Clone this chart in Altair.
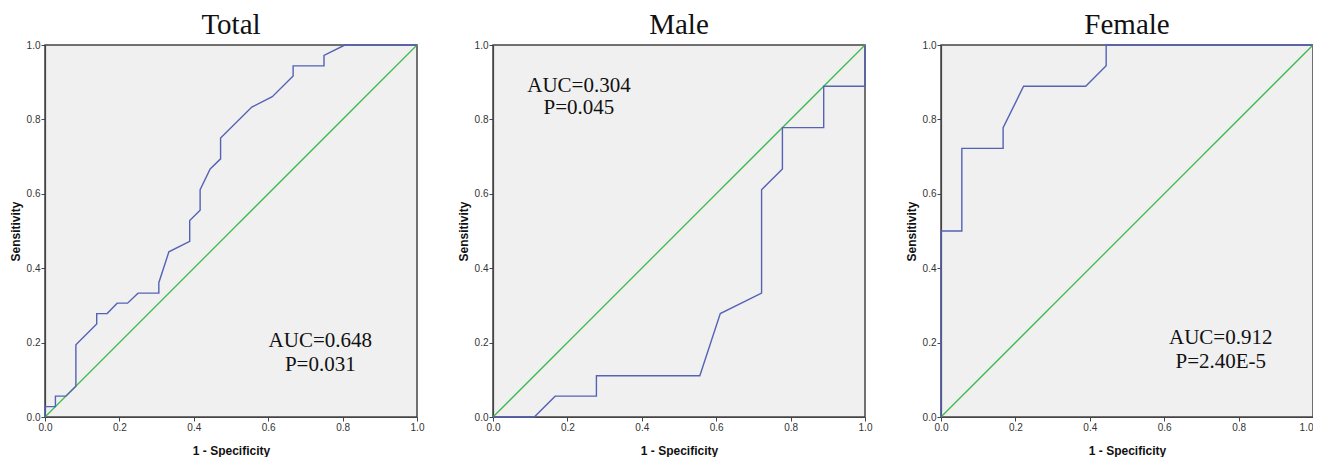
import altair as alt
import pandas as pd

panels = ["Total", "Male", "Female"]

total_x = [0, 0, 0.028, 0.028, 0.056, 0.083, 0.083, 0.139, 0.139, 0.167, 0.194, 0.222, 0.25,
           0.306, 0.306, 0.333, 0.389, 0.389, 0.417, 0.417, 0.444, 0.472, 0.472, 0.556, 0.611,
           0.667, 0.667, 0.75, 0.75, 0.806, 1.0]
total_y = [0, 0.028, 0.028, 0.056, 0.056, 0.083, 0.194, 0.25, 0.278, 0.278, 0.306, 0.306, 0.333,
           0.333, 0.361, 0.444, 0.472, 0.528, 0.556, 0.611, 0.667, 0.694, 0.75, 0.833, 0.861,
           0.917, 0.944, 0.944, 0.972, 1.0, 1.0]

male_x = [0, 0.111, 0.167, 0.278, 0.278, 0.556, 0.611, 0.722, 0.722, 0.778, 0.778, 0.889, 0.889, 1.0, 1.0]
male_y = [0, 0, 0.056, 0.056, 0.111, 0.111, 0.278, 0.333, 0.611, 0.667, 0.778, 0.778, 0.889, 0.889, 1.0]

female_x = [0, 0, 0.056, 0.056, 0.167, 0.167, 0.222, 0.389, 0.444, 0.444, 1.0]
female_y = [0, 0.5, 0.5, 0.722, 0.722, 0.778, 0.889, 0.889, 0.944, 1.0, 1.0]

auc_text = ["AUC=0.648", "AUC=0.304", "AUC=0.912"]
p_text = ["P=0.031", "P=0.045", "P=2.40E-5"]
ann_x = [0.740, 0.231, 0.752]
ann_y_auc = [0.203, 0.890, 0.212]
ann_y_p = [0.139, 0.830, 0.149]

curves = [(total_x, total_y), (male_x, male_y), (female_x, female_y)]

BLUE = "#5562b5"
GREEN = "#3dba4e"
AXIS = "#444444"


def panel(i):
    cx, cy = curves[i]
    roc = pd.DataFrame({"x": cx, "y": cy, "o": list(range(len(cx)))})
    diag = pd.DataFrame({"x": [0.0, 1.0], "y": [0.0, 1.0]})
    ann = pd.DataFrame({"x": [ann_x[i], ann_x[i]], "y": [ann_y_auc[i], ann_y_p[i]],
                        "t": [auc_text[i], p_text[i]]})

    xs = alt.Scale(domain=[0, 1], nice=False, zero=False)
    ys = alt.Scale(domain=[0, 1], nice=False, zero=False)
    extra = {}
    if i == 2:
        extra = dict(labelAlign=alt.expr("datum.value == 1 ? 'right' : 'center'"))
    xax = alt.Axis(values=[0, 0.2, 0.4, 0.6, 0.8, 1.0], format=".1f", title="1 - Specificity",
                   labelFlush=False, grid=False, tickSize=4, tickColor=AXIS, domainColor=AXIS,
                   domainWidth=1.2, labelFont="Liberation Sans", labelFontSize=10,
                   labelColor="#333333", labelPadding=1,
                   titleFont="Liberation Sans", titleFontSize=12, titleFontWeight="bold",
                   titleColor="#111111", titlePadding=13, **extra)
    yax = alt.Axis(values=[0, 0.2, 0.4, 0.6, 0.8, 1.0], format=".1f", title="Sensitivity",
                   labelFlush=False, grid=False, tickSize=4, tickColor=AXIS, domainColor=AXIS,
                   domainWidth=1.2, labelFont="Liberation Sans", labelFontSize=10,
                   labelColor="#333333", labelPadding=1,
                   titleFont="Liberation Sans", titleFontSize=12, titleFontWeight="bold",
                   titleColor="#111111", titlePadding=4)

    d = alt.Chart(diag).mark_line(color=GREEN, strokeWidth=1.3).encode(
        x=alt.X("x:Q", scale=xs, axis=xax),
        y=alt.Y("y:Q", scale=ys, axis=yax),
    )
    r = alt.Chart(roc).mark_line(color=BLUE, strokeWidth=1.4).encode(
        x=alt.X("x:Q", scale=xs), y=alt.Y("y:Q", scale=ys), order="o:Q"
    )
    t = alt.Chart(ann).mark_text(font="Liberation Serif", fontSize=21, color="#111111",
                                 align="center", baseline="middle").encode(
        x=alt.X("x:Q", scale=xs), y=alt.Y("y:Q", scale=ys), text="t:N"
    )
    return alt.layer(d, r, t).properties(
        width=372, height=372,
        title=alt.TitleParams(panels[i], font="Liberation Serif", fontSize=29,
                              fontWeight="normal", color="#111111", offset=0),
    )


chart = alt.hconcat(panel(0), panel(1), panel(2), spacing=76, bounds="flush").properties(
    padding={"left": 0, "top": 2, "right": -4, "bottom": 0}
).configure_view(fill="#f0f0f0", stroke=AXIS, strokeWidth=1.5)

chart.save("out.html", embed_options={"renderer": "svg", "actions": False})
